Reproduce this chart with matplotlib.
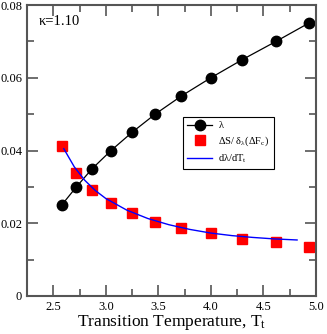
import matplotlib
matplotlib.use('Agg')
import matplotlib.pyplot as plt
from matplotlib.ticker import MultipleLocator, FixedFormatter, FixedLocator

plt.rcParams['font.family'] = ['Liberation Serif', 'DejaVu Serif']
plt.rcParams['mathtext.fontset'] = 'custom'
plt.rcParams['mathtext.rm'] = 'Liberation Serif'
plt.rcParams['mathtext.it'] = 'Liberation Serif'

# dados
temp_t = [2.58, 2.72, 2.87, 3.05, 3.25, 3.47, 3.72, 4.00, 4.30, 4.62, 4.93]
lam = [0.025, 0.030, 0.035, 0.040, 0.045, 0.050, 0.055, 0.060, 0.065, 0.070, 0.075]
ds_ratio = [0.0412, 0.0338, 0.0291, 0.0255, 0.0228, 0.0204, 0.0188, 0.0172, 0.0157, 0.0148, 0.0136]

curva_t = [2.60, 2.70, 2.80, 2.90, 3.00, 3.20, 3.40, 3.60, 3.80, 4.00, 4.20, 4.40, 4.60, 4.82]
curva_dl = [0.0405, 0.0355, 0.0318, 0.0290, 0.0268, 0.0236, 0.0213, 0.0196, 0.0183,
            0.0173, 0.0166, 0.0161, 0.0157, 0.0154]

xticks = [2.5, 3.0, 3.5, 4.0, 4.5, 5.0]
xticklabels = ['2.5', '3.0', '3.5', '4.0', '4.5', '5.0']
yticks = [0, 0.02, 0.04, 0.06, 0.08]
yticklabels = ['0', '0.02', '0.04', '0.06', '0.08']

fig = plt.figure(figsize=(3.27, 3.34), dpi=100)
ax = fig.add_axes([27 / 327, 1 - 296 / 334, 289 / 327, 291 / 334])

ax.plot(temp_t, lam, color='black', lw=0.9, marker='o', ms=7.5, mfc='black',
        label='λ')
ax.plot(temp_t, ds_ratio, ls='none', marker='s', ms=7, color='red',
        label=r'ΔS/ δ$_\mathregular{λ}$(ΔF$_\mathregular{c}$)')
ax.plot(curva_t, curva_dl, color='blue', lw=1.0, label=r'dλ/dT$_\mathregular{t}$')

ax.set_xlim(2.25, 5.0)
ax.set_ylim(0, 0.08)
ax.xaxis.set_major_locator(FixedLocator(xticks))
ax.xaxis.set_major_formatter(FixedFormatter(xticklabels))
ax.xaxis.set_minor_locator(MultipleLocator(0.25))
ax.yaxis.set_major_locator(FixedLocator(yticks))
ax.yaxis.set_major_formatter(FixedFormatter(yticklabels))
ax.yaxis.set_minor_locator(MultipleLocator(0.01))

ax.tick_params(which='both', direction='in', top=True, right=True,
               color='#555555', width=1.2, labelsize=9)
ax.tick_params(which='major', length=8)
ax.tick_params(which='minor', length=5)
for s in ax.spines.values():
    s.set_linewidth(1.5)
    s.set_color('#555555')

ax.set_xlabel(r'Transition Temperature, T$_\mathregular{t}$', fontsize=12.5, labelpad=0)
ax.text(0.04, 0.93, 'κ=1.10', transform=ax.transAxes, fontsize=10.5)

leg = ax.legend(loc='upper left', bbox_to_anchor=(0.54, 0.615), fontsize=7.5,
                frameon=True, fancybox=False, edgecolor='black', framealpha=1,
                handlelength=2.4, handletextpad=0.6, borderpad=0.4,
                labelspacing=0.4, borderaxespad=0)
leg.get_frame().set_linewidth(0.8)

plt.savefig('out.png', dpi=100)
